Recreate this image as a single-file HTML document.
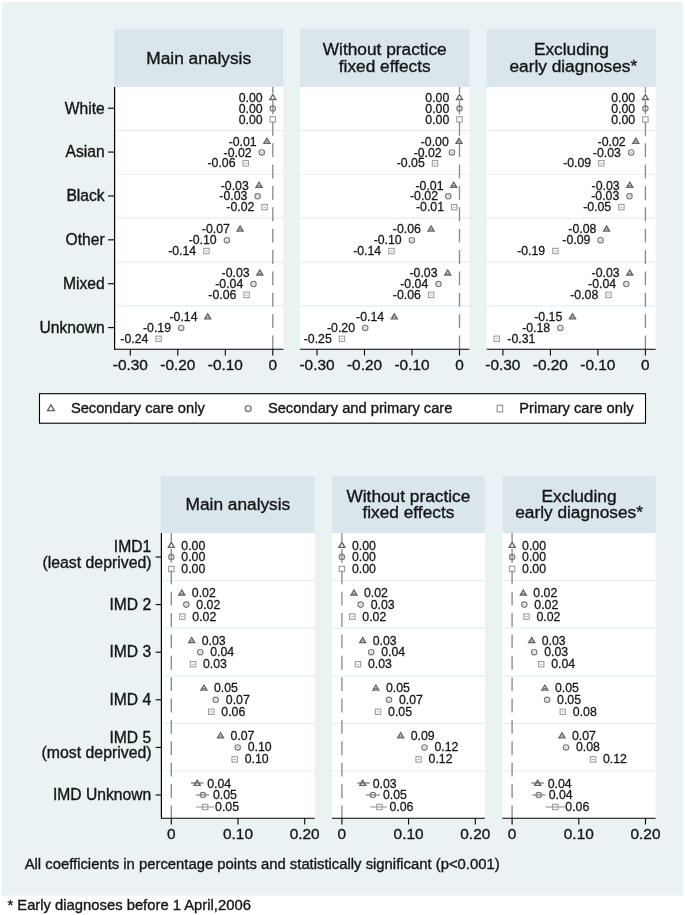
<!DOCTYPE html>
<html><head><meta charset="utf-8"><title>Figure</title>
<style>
html,body{margin:0;padding:0;background:#fff;}
body{width:685px;height:915px;overflow:hidden;font-family:"Liberation Sans",sans-serif;}
svg{display:block;}
svg text{font-family:"Liberation Sans",sans-serif;stroke:#151515;stroke-width:0.35px;}
svg text.dl{stroke-width:0.27px;}
svg{will-change:transform;}
</style></head><body>
<svg width="685" height="915" viewBox="0 0 685 915">
<defs><filter id="gs" filterUnits="userSpaceOnUse" x="0" y="0" width="685" height="915"><feOffset dx="0" dy="0"/></filter></defs>
<g filter="url(#gs)">
<rect x="0" y="0" width="685" height="915" fill="#ffffff"/>
<rect x="2" y="2" width="681" height="893.5" fill="#eaf2f3"/>
<rect x="114" y="29" width="169.40" height="58" fill="#d9e6eb"/>
<rect x="114" y="87" width="169.40" height="262.20" fill="#ffffff"/>
<path d="M116.6 130.30H283.40" stroke="#e6eef2" stroke-width="1.2"/>
<path d="M116.6 174.25H283.40" stroke="#e6eef2" stroke-width="1.2"/>
<path d="M116.6 218.20H283.40" stroke="#e6eef2" stroke-width="1.2"/>
<path d="M116.6 262.15H283.40" stroke="#e6eef2" stroke-width="1.2"/>
<path d="M116.6 306.10H283.40" stroke="#e6eef2" stroke-width="1.2"/>
<text x="198.70" y="63.70" font-size="17.3" text-anchor="middle" fill="#151515" >Main analysis</text>
<path d="M272.80 87.00V92.96M272.80 100.43V114.33M272.80 121.80V135.70M272.80 143.17V157.07M272.80 164.54V178.44M272.80 185.91V199.81M272.80 207.28V221.18M272.80 228.65V242.55M272.80 250.02V263.92M272.80 271.39V285.29M272.80 292.76V306.66M272.80 314.13V328.03M272.80 335.50V349.20" stroke="#8c8c8c" stroke-width="1.35" fill="none"/>
<path d="M114 349.20H283.40" stroke="#000" stroke-width="1.1"/>
<path d="M130.30 349.20V355.50" stroke="#000" stroke-width="1.1"/>
<text x="130.30" y="370.30" font-size="15.4" text-anchor="middle" fill="#151515" >-0.30</text>
<path d="M177.80 349.20V355.50" stroke="#000" stroke-width="1.1"/>
<text x="177.80" y="370.30" font-size="15.4" text-anchor="middle" fill="#151515" >-0.20</text>
<path d="M225.30 349.20V355.50" stroke="#000" stroke-width="1.1"/>
<text x="225.30" y="370.30" font-size="15.4" text-anchor="middle" fill="#151515" >-0.10</text>
<path d="M272.80 349.20V355.50" stroke="#000" stroke-width="1.1"/>
<text x="272.80" y="370.30" font-size="15.4" text-anchor="middle" fill="#151515" >0</text>
<path d="M269.80 99.50L272.80 94.45L275.80 99.50Z" fill="none" stroke="#606060" stroke-width="1.3" stroke-linejoin="miter"/>
<text x="262.60" y="101.85" font-size="12.3" text-anchor="end" fill="#151515"  class="dl">0.00</text>
<circle cx="272.80" cy="108.55" r="2.7" fill="#808080" fill-opacity="0.10" stroke="#7a7a7a" stroke-width="1.15"/>
<text x="262.60" y="112.70" font-size="12.3" text-anchor="end" fill="#151515"  class="dl">0.00</text>
<rect x="270.10" y="116.70" width="5.4" height="5.4" fill="none" stroke="#9a9a9a" stroke-width="1.05"/>
<text x="262.60" y="123.55" font-size="12.3" text-anchor="end" fill="#151515"  class="dl">0.00</text>
<path d="M263.90 143.38L266.90 138.33L269.90 143.38Z" fill="none" stroke="#606060" stroke-width="1.3" stroke-linejoin="miter"/>
<path d="M265.40 141.68H268.40" stroke="#606060" stroke-width="0.9" opacity="1"/>
<text x="256.70" y="145.73" font-size="12.3" text-anchor="end" fill="#151515"  class="dl">-0.01</text>
<circle cx="261.80" cy="152.43" r="2.7" fill="#808080" fill-opacity="0.10" stroke="#7a7a7a" stroke-width="1.15"/>
<path d="M261.00 152.53H262.60" stroke="#7a7a7a" stroke-width="0.9" opacity="0.6"/>
<text x="251.60" y="156.58" font-size="12.3" text-anchor="end" fill="#151515"  class="dl">-0.02</text>
<rect x="243.00" y="160.58" width="5.4" height="5.4" fill="none" stroke="#9a9a9a" stroke-width="1.05"/>
<path d="M244.40 163.38H247.00" stroke="#9a9a9a" stroke-width="0.9" opacity="0.9"/>
<text x="235.50" y="167.43" font-size="12.3" text-anchor="end" fill="#151515"  class="dl">-0.06</text>
<path d="M256.00 187.26L259.00 182.21L262.00 187.26Z" fill="none" stroke="#606060" stroke-width="1.3" stroke-linejoin="miter"/>
<path d="M257.50 185.56H260.50" stroke="#606060" stroke-width="0.9" opacity="1"/>
<text x="248.80" y="189.61" font-size="12.3" text-anchor="end" fill="#151515"  class="dl">-0.03</text>
<circle cx="257.60" cy="196.31" r="2.7" fill="#808080" fill-opacity="0.10" stroke="#7a7a7a" stroke-width="1.15"/>
<path d="M256.80 196.41H258.40" stroke="#7a7a7a" stroke-width="0.9" opacity="0.6"/>
<text x="247.40" y="200.46" font-size="12.3" text-anchor="end" fill="#151515"  class="dl">-0.03</text>
<rect x="261.90" y="204.46" width="5.4" height="5.4" fill="none" stroke="#9a9a9a" stroke-width="1.05"/>
<path d="M263.30 207.26H265.90" stroke="#9a9a9a" stroke-width="0.9" opacity="0.9"/>
<text x="254.40" y="211.31" font-size="12.3" text-anchor="end" fill="#151515"  class="dl">-0.02</text>
<path d="M237.10 231.14L240.10 226.09L243.10 231.14Z" fill="none" stroke="#606060" stroke-width="1.3" stroke-linejoin="miter"/>
<path d="M238.60 229.44H241.60" stroke="#606060" stroke-width="0.9" opacity="1"/>
<text x="229.90" y="233.49" font-size="12.3" text-anchor="end" fill="#151515"  class="dl">-0.07</text>
<circle cx="226.90" cy="240.19" r="2.7" fill="#808080" fill-opacity="0.10" stroke="#7a7a7a" stroke-width="1.15"/>
<path d="M226.10 240.29H227.70" stroke="#7a7a7a" stroke-width="0.9" opacity="0.6"/>
<text x="216.70" y="244.34" font-size="12.3" text-anchor="end" fill="#151515"  class="dl">-0.10</text>
<rect x="203.70" y="248.34" width="5.4" height="5.4" fill="none" stroke="#9a9a9a" stroke-width="1.05"/>
<path d="M205.10 251.14H207.70" stroke="#9a9a9a" stroke-width="0.9" opacity="0.9"/>
<text x="196.20" y="255.19" font-size="12.3" text-anchor="end" fill="#151515"  class="dl">-0.14</text>
<path d="M256.80 275.02L259.80 269.97L262.80 275.02Z" fill="none" stroke="#606060" stroke-width="1.3" stroke-linejoin="miter"/>
<path d="M258.30 273.32H261.30" stroke="#606060" stroke-width="0.9" opacity="1"/>
<text x="249.60" y="277.37" font-size="12.3" text-anchor="end" fill="#151515"  class="dl">-0.03</text>
<circle cx="253.50" cy="284.07" r="2.7" fill="#808080" fill-opacity="0.10" stroke="#7a7a7a" stroke-width="1.15"/>
<path d="M252.70 284.17H254.30" stroke="#7a7a7a" stroke-width="0.9" opacity="0.6"/>
<text x="243.30" y="288.22" font-size="12.3" text-anchor="end" fill="#151515"  class="dl">-0.04</text>
<rect x="243.90" y="292.22" width="5.4" height="5.4" fill="none" stroke="#9a9a9a" stroke-width="1.05"/>
<path d="M245.30 295.02H247.90" stroke="#9a9a9a" stroke-width="0.9" opacity="0.9"/>
<text x="236.40" y="299.07" font-size="12.3" text-anchor="end" fill="#151515"  class="dl">-0.06</text>
<path d="M204.70 318.90L207.70 313.85L210.70 318.90Z" fill="none" stroke="#606060" stroke-width="1.3" stroke-linejoin="miter"/>
<path d="M206.20 317.20H209.20" stroke="#606060" stroke-width="0.9" opacity="1"/>
<text x="197.50" y="321.25" font-size="12.3" text-anchor="end" fill="#151515"  class="dl">-0.14</text>
<circle cx="181.20" cy="327.95" r="2.7" fill="#808080" fill-opacity="0.10" stroke="#7a7a7a" stroke-width="1.15"/>
<path d="M180.40 328.05H182.00" stroke="#7a7a7a" stroke-width="0.9" opacity="0.6"/>
<text x="171.00" y="332.10" font-size="12.3" text-anchor="end" fill="#151515"  class="dl">-0.19</text>
<rect x="155.90" y="336.10" width="5.4" height="5.4" fill="none" stroke="#9a9a9a" stroke-width="1.05"/>
<path d="M157.30 338.90H159.90" stroke="#9a9a9a" stroke-width="0.9" opacity="0.9"/>
<text x="148.40" y="342.95" font-size="12.3" text-anchor="end" fill="#151515"  class="dl">-0.24</text>
<rect x="300" y="29" width="169.50" height="58" fill="#d9e6eb"/>
<rect x="300" y="87" width="169.50" height="262.20" fill="#ffffff"/>
<path d="M300 130.30H469.50" stroke="#e6eef2" stroke-width="1.2"/>
<path d="M300 174.25H469.50" stroke="#e6eef2" stroke-width="1.2"/>
<path d="M300 218.20H469.50" stroke="#e6eef2" stroke-width="1.2"/>
<path d="M300 262.15H469.50" stroke="#e6eef2" stroke-width="1.2"/>
<path d="M300 306.10H469.50" stroke="#e6eef2" stroke-width="1.2"/>
<text x="384.75" y="54.60" font-size="17.3" text-anchor="middle" fill="#151515" >Without practice</text>
<text x="384.75" y="71.80" font-size="17.3" text-anchor="middle" fill="#151515" >fixed effects</text>
<path d="M459.50 87.00V92.96M459.50 100.43V114.33M459.50 121.80V135.70M459.50 143.17V157.07M459.50 164.54V178.44M459.50 185.91V199.81M459.50 207.28V221.18M459.50 228.65V242.55M459.50 250.02V263.92M459.50 271.39V285.29M459.50 292.76V306.66M459.50 314.13V328.03M459.50 335.50V349.20" stroke="#8c8c8c" stroke-width="1.35" fill="none"/>
<path d="M300 349.20H469.50" stroke="#000" stroke-width="1.1"/>
<path d="M317.00 349.20V355.50" stroke="#000" stroke-width="1.1"/>
<text x="317.00" y="370.30" font-size="15.4" text-anchor="middle" fill="#151515" >-0.30</text>
<path d="M364.50 349.20V355.50" stroke="#000" stroke-width="1.1"/>
<text x="364.50" y="370.30" font-size="15.4" text-anchor="middle" fill="#151515" >-0.20</text>
<path d="M412.00 349.20V355.50" stroke="#000" stroke-width="1.1"/>
<text x="412.00" y="370.30" font-size="15.4" text-anchor="middle" fill="#151515" >-0.10</text>
<path d="M459.50 349.20V355.50" stroke="#000" stroke-width="1.1"/>
<text x="459.50" y="370.30" font-size="15.4" text-anchor="middle" fill="#151515" >0</text>
<path d="M456.50 99.50L459.50 94.45L462.50 99.50Z" fill="none" stroke="#606060" stroke-width="1.3" stroke-linejoin="miter"/>
<text x="449.30" y="101.85" font-size="12.3" text-anchor="end" fill="#151515"  class="dl">0.00</text>
<circle cx="459.50" cy="108.55" r="2.7" fill="#808080" fill-opacity="0.10" stroke="#7a7a7a" stroke-width="1.15"/>
<text x="449.30" y="112.70" font-size="12.3" text-anchor="end" fill="#151515"  class="dl">0.00</text>
<rect x="456.80" y="116.70" width="5.4" height="5.4" fill="none" stroke="#9a9a9a" stroke-width="1.05"/>
<text x="449.30" y="123.55" font-size="12.3" text-anchor="end" fill="#151515"  class="dl">0.00</text>
<path d="M456.00 143.38L459.00 138.33L462.00 143.38Z" fill="none" stroke="#606060" stroke-width="1.3" stroke-linejoin="miter"/>
<path d="M457.50 141.68H460.50" stroke="#606060" stroke-width="0.9" opacity="1"/>
<text x="448.80" y="145.73" font-size="12.3" text-anchor="end" fill="#151515"  class="dl">-0.00</text>
<circle cx="451.90" cy="152.43" r="2.7" fill="#808080" fill-opacity="0.10" stroke="#7a7a7a" stroke-width="1.15"/>
<path d="M451.10 152.53H452.70" stroke="#7a7a7a" stroke-width="0.9" opacity="0.6"/>
<text x="441.70" y="156.58" font-size="12.3" text-anchor="end" fill="#151515"  class="dl">-0.02</text>
<rect x="432.30" y="160.58" width="5.4" height="5.4" fill="none" stroke="#9a9a9a" stroke-width="1.05"/>
<path d="M433.70 163.38H436.30" stroke="#9a9a9a" stroke-width="0.9" opacity="0.9"/>
<text x="424.80" y="167.43" font-size="12.3" text-anchor="end" fill="#151515"  class="dl">-0.05</text>
<path d="M450.70 187.26L453.70 182.21L456.70 187.26Z" fill="none" stroke="#606060" stroke-width="1.3" stroke-linejoin="miter"/>
<path d="M452.20 185.56H455.20" stroke="#606060" stroke-width="0.9" opacity="1"/>
<text x="443.50" y="189.61" font-size="12.3" text-anchor="end" fill="#151515"  class="dl">-0.01</text>
<circle cx="448.20" cy="196.31" r="2.7" fill="#808080" fill-opacity="0.10" stroke="#7a7a7a" stroke-width="1.15"/>
<path d="M447.40 196.41H449.00" stroke="#7a7a7a" stroke-width="0.9" opacity="0.6"/>
<text x="438.00" y="200.46" font-size="12.3" text-anchor="end" fill="#151515"  class="dl">-0.02</text>
<rect x="451.50" y="204.46" width="5.4" height="5.4" fill="none" stroke="#9a9a9a" stroke-width="1.05"/>
<path d="M452.90 207.26H455.50" stroke="#9a9a9a" stroke-width="0.9" opacity="0.9"/>
<text x="444.00" y="211.31" font-size="12.3" text-anchor="end" fill="#151515"  class="dl">-0.01</text>
<path d="M428.10 231.14L431.10 226.09L434.10 231.14Z" fill="none" stroke="#606060" stroke-width="1.3" stroke-linejoin="miter"/>
<path d="M429.60 229.44H432.60" stroke="#606060" stroke-width="0.9" opacity="1"/>
<text x="420.90" y="233.49" font-size="12.3" text-anchor="end" fill="#151515"  class="dl">-0.06</text>
<circle cx="411.90" cy="240.19" r="2.7" fill="#808080" fill-opacity="0.10" stroke="#7a7a7a" stroke-width="1.15"/>
<path d="M411.10 240.29H412.70" stroke="#7a7a7a" stroke-width="0.9" opacity="0.6"/>
<text x="401.70" y="244.34" font-size="12.3" text-anchor="end" fill="#151515"  class="dl">-0.10</text>
<rect x="388.70" y="248.34" width="5.4" height="5.4" fill="none" stroke="#9a9a9a" stroke-width="1.05"/>
<path d="M390.10 251.14H392.70" stroke="#9a9a9a" stroke-width="0.9" opacity="0.9"/>
<text x="381.20" y="255.19" font-size="12.3" text-anchor="end" fill="#151515"  class="dl">-0.14</text>
<path d="M444.70 275.02L447.70 269.97L450.70 275.02Z" fill="none" stroke="#606060" stroke-width="1.3" stroke-linejoin="miter"/>
<path d="M446.20 273.32H449.20" stroke="#606060" stroke-width="0.9" opacity="1"/>
<text x="437.50" y="277.37" font-size="12.3" text-anchor="end" fill="#151515"  class="dl">-0.03</text>
<circle cx="438.50" cy="284.07" r="2.7" fill="#808080" fill-opacity="0.10" stroke="#7a7a7a" stroke-width="1.15"/>
<path d="M437.70 284.17H439.30" stroke="#7a7a7a" stroke-width="0.9" opacity="0.6"/>
<text x="428.30" y="288.22" font-size="12.3" text-anchor="end" fill="#151515"  class="dl">-0.04</text>
<rect x="428.40" y="292.22" width="5.4" height="5.4" fill="none" stroke="#9a9a9a" stroke-width="1.05"/>
<path d="M429.80 295.02H432.40" stroke="#9a9a9a" stroke-width="0.9" opacity="0.9"/>
<text x="420.90" y="299.07" font-size="12.3" text-anchor="end" fill="#151515"  class="dl">-0.06</text>
<path d="M391.30 318.90L394.30 313.85L397.30 318.90Z" fill="none" stroke="#606060" stroke-width="1.3" stroke-linejoin="miter"/>
<path d="M392.80 317.20H395.80" stroke="#606060" stroke-width="0.9" opacity="1"/>
<text x="384.10" y="321.25" font-size="12.3" text-anchor="end" fill="#151515"  class="dl">-0.14</text>
<circle cx="365.20" cy="327.95" r="2.7" fill="#808080" fill-opacity="0.10" stroke="#7a7a7a" stroke-width="1.15"/>
<path d="M364.40 328.05H366.00" stroke="#7a7a7a" stroke-width="0.9" opacity="0.6"/>
<text x="355.00" y="332.10" font-size="12.3" text-anchor="end" fill="#151515"  class="dl">-0.20</text>
<rect x="339.30" y="336.10" width="5.4" height="5.4" fill="none" stroke="#9a9a9a" stroke-width="1.05"/>
<path d="M340.70 338.90H343.30" stroke="#9a9a9a" stroke-width="0.9" opacity="0.9"/>
<text x="331.80" y="342.95" font-size="12.3" text-anchor="end" fill="#151515"  class="dl">-0.25</text>
<rect x="486.7" y="29" width="168.90" height="58" fill="#d9e6eb"/>
<rect x="486.7" y="87" width="168.90" height="262.20" fill="#ffffff"/>
<path d="M486.7 130.30H655.60" stroke="#e6eef2" stroke-width="1.2"/>
<path d="M486.7 174.25H655.60" stroke="#e6eef2" stroke-width="1.2"/>
<path d="M486.7 218.20H655.60" stroke="#e6eef2" stroke-width="1.2"/>
<path d="M486.7 262.15H655.60" stroke="#e6eef2" stroke-width="1.2"/>
<path d="M486.7 306.10H655.60" stroke="#e6eef2" stroke-width="1.2"/>
<text x="571.40" y="54.60" font-size="17.3" text-anchor="middle" fill="#151515" >Excluding</text>
<text x="573.30" y="71.80" font-size="17.3" text-anchor="middle" fill="#151515" >early diagnoses*</text>
<path d="M645.40 87.00V92.96M645.40 100.43V114.33M645.40 121.80V135.70M645.40 143.17V157.07M645.40 164.54V178.44M645.40 185.91V199.81M645.40 207.28V221.18M645.40 228.65V242.55M645.40 250.02V263.92M645.40 271.39V285.29M645.40 292.76V306.66M645.40 314.13V328.03M645.40 335.50V349.20" stroke="#8c8c8c" stroke-width="1.35" fill="none"/>
<path d="M486.7 349.20H655.60" stroke="#000" stroke-width="1.1"/>
<path d="M502.90 349.20V355.50" stroke="#000" stroke-width="1.1"/>
<text x="502.90" y="370.30" font-size="15.4" text-anchor="middle" fill="#151515" >-0.30</text>
<path d="M550.40 349.20V355.50" stroke="#000" stroke-width="1.1"/>
<text x="550.40" y="370.30" font-size="15.4" text-anchor="middle" fill="#151515" >-0.20</text>
<path d="M597.90 349.20V355.50" stroke="#000" stroke-width="1.1"/>
<text x="597.90" y="370.30" font-size="15.4" text-anchor="middle" fill="#151515" >-0.10</text>
<path d="M645.40 349.20V355.50" stroke="#000" stroke-width="1.1"/>
<text x="645.40" y="370.30" font-size="15.4" text-anchor="middle" fill="#151515" >0</text>
<path d="M642.40 99.50L645.40 94.45L648.40 99.50Z" fill="none" stroke="#606060" stroke-width="1.3" stroke-linejoin="miter"/>
<text x="635.20" y="101.85" font-size="12.3" text-anchor="end" fill="#151515"  class="dl">0.00</text>
<circle cx="645.40" cy="108.55" r="2.7" fill="#808080" fill-opacity="0.10" stroke="#7a7a7a" stroke-width="1.15"/>
<text x="635.20" y="112.70" font-size="12.3" text-anchor="end" fill="#151515"  class="dl">0.00</text>
<rect x="642.70" y="116.70" width="5.4" height="5.4" fill="none" stroke="#9a9a9a" stroke-width="1.05"/>
<text x="635.20" y="123.55" font-size="12.3" text-anchor="end" fill="#151515"  class="dl">0.00</text>
<path d="M632.80 143.38L635.80 138.33L638.80 143.38Z" fill="none" stroke="#606060" stroke-width="1.3" stroke-linejoin="miter"/>
<path d="M634.30 141.68H637.30" stroke="#606060" stroke-width="0.9" opacity="1"/>
<text x="625.60" y="145.73" font-size="12.3" text-anchor="end" fill="#151515"  class="dl">-0.02</text>
<circle cx="631.10" cy="152.43" r="2.7" fill="#808080" fill-opacity="0.10" stroke="#7a7a7a" stroke-width="1.15"/>
<path d="M630.30 152.53H631.90" stroke="#7a7a7a" stroke-width="0.9" opacity="0.6"/>
<text x="620.90" y="156.58" font-size="12.3" text-anchor="end" fill="#151515"  class="dl">-0.03</text>
<rect x="598.70" y="160.58" width="5.4" height="5.4" fill="none" stroke="#9a9a9a" stroke-width="1.05"/>
<path d="M600.10 163.38H602.70" stroke="#9a9a9a" stroke-width="0.9" opacity="0.9"/>
<text x="591.20" y="167.43" font-size="12.3" text-anchor="end" fill="#151515"  class="dl">-0.09</text>
<path d="M626.80 187.26L629.80 182.21L632.80 187.26Z" fill="none" stroke="#606060" stroke-width="1.3" stroke-linejoin="miter"/>
<path d="M628.30 185.56H631.30" stroke="#606060" stroke-width="0.9" opacity="1"/>
<text x="619.60" y="189.61" font-size="12.3" text-anchor="end" fill="#151515"  class="dl">-0.03</text>
<circle cx="629.50" cy="196.31" r="2.7" fill="#808080" fill-opacity="0.10" stroke="#7a7a7a" stroke-width="1.15"/>
<path d="M628.70 196.41H630.30" stroke="#7a7a7a" stroke-width="0.9" opacity="0.6"/>
<text x="619.30" y="200.46" font-size="12.3" text-anchor="end" fill="#151515"  class="dl">-0.03</text>
<rect x="618.70" y="204.46" width="5.4" height="5.4" fill="none" stroke="#9a9a9a" stroke-width="1.05"/>
<path d="M620.10 207.26H622.70" stroke="#9a9a9a" stroke-width="0.9" opacity="0.9"/>
<text x="611.20" y="211.31" font-size="12.3" text-anchor="end" fill="#151515"  class="dl">-0.05</text>
<path d="M603.60 231.14L606.60 226.09L609.60 231.14Z" fill="none" stroke="#606060" stroke-width="1.3" stroke-linejoin="miter"/>
<path d="M605.10 229.44H608.10" stroke="#606060" stroke-width="0.9" opacity="1"/>
<text x="596.40" y="233.49" font-size="12.3" text-anchor="end" fill="#151515"  class="dl">-0.08</text>
<circle cx="600.60" cy="240.19" r="2.7" fill="#808080" fill-opacity="0.10" stroke="#7a7a7a" stroke-width="1.15"/>
<path d="M599.80 240.29H601.40" stroke="#7a7a7a" stroke-width="0.9" opacity="0.6"/>
<text x="590.40" y="244.34" font-size="12.3" text-anchor="end" fill="#151515"  class="dl">-0.09</text>
<rect x="552.70" y="248.34" width="5.4" height="5.4" fill="none" stroke="#9a9a9a" stroke-width="1.05"/>
<path d="M554.10 251.14H556.70" stroke="#9a9a9a" stroke-width="0.9" opacity="0.9"/>
<text x="545.20" y="255.19" font-size="12.3" text-anchor="end" fill="#151515"  class="dl">-0.19</text>
<path d="M626.80 275.02L629.80 269.97L632.80 275.02Z" fill="none" stroke="#606060" stroke-width="1.3" stroke-linejoin="miter"/>
<path d="M628.30 273.32H631.30" stroke="#606060" stroke-width="0.9" opacity="1"/>
<text x="619.60" y="277.37" font-size="12.3" text-anchor="end" fill="#151515"  class="dl">-0.03</text>
<circle cx="626.30" cy="284.07" r="2.7" fill="#808080" fill-opacity="0.10" stroke="#7a7a7a" stroke-width="1.15"/>
<path d="M625.50 284.17H627.10" stroke="#7a7a7a" stroke-width="0.9" opacity="0.6"/>
<text x="616.10" y="288.22" font-size="12.3" text-anchor="end" fill="#151515"  class="dl">-0.04</text>
<rect x="605.80" y="292.22" width="5.4" height="5.4" fill="none" stroke="#9a9a9a" stroke-width="1.05"/>
<path d="M607.20 295.02H609.80" stroke="#9a9a9a" stroke-width="0.9" opacity="0.9"/>
<text x="598.30" y="299.07" font-size="12.3" text-anchor="end" fill="#151515"  class="dl">-0.08</text>
<path d="M569.50 318.90L572.50 313.85L575.50 318.90Z" fill="none" stroke="#606060" stroke-width="1.3" stroke-linejoin="miter"/>
<path d="M571.00 317.20H574.00" stroke="#606060" stroke-width="0.9" opacity="1"/>
<text x="562.30" y="321.25" font-size="12.3" text-anchor="end" fill="#151515"  class="dl">-0.15</text>
<circle cx="560.40" cy="327.95" r="2.7" fill="#808080" fill-opacity="0.10" stroke="#7a7a7a" stroke-width="1.15"/>
<path d="M559.60 328.05H561.20" stroke="#7a7a7a" stroke-width="0.9" opacity="0.6"/>
<text x="550.20" y="332.10" font-size="12.3" text-anchor="end" fill="#151515"  class="dl">-0.18</text>
<rect x="494.10" y="336.10" width="5.4" height="5.4" fill="none" stroke="#9a9a9a" stroke-width="1.05"/>
<path d="M495.50 338.90H498.10" stroke="#9a9a9a" stroke-width="0.9" opacity="0.9"/>
<text x="507.30" y="342.95" font-size="12.3" text-anchor="start" fill="#151515"  class="dl">-0.31</text>
<path d="M114.6 87V349.20" stroke="#000" stroke-width="1.2"/>
<path d="M108 108.20H114.6" stroke="#000" stroke-width="1.1"/>
<text x="104.70" y="113.50" font-size="15.65" text-anchor="end" fill="#151515" >White</text>
<path d="M108 152.08H114.6" stroke="#000" stroke-width="1.1"/>
<text x="104.70" y="157.38" font-size="15.65" text-anchor="end" fill="#151515" >Asian</text>
<path d="M108 195.96H114.6" stroke="#000" stroke-width="1.1"/>
<text x="104.70" y="201.26" font-size="15.65" text-anchor="end" fill="#151515" >Black</text>
<path d="M108 239.84H114.6" stroke="#000" stroke-width="1.1"/>
<text x="104.70" y="245.14" font-size="15.65" text-anchor="end" fill="#151515" >Other</text>
<path d="M108 283.72H114.6" stroke="#000" stroke-width="1.1"/>
<text x="104.70" y="289.02" font-size="15.65" text-anchor="end" fill="#151515" >Mixed</text>
<path d="M108 327.60H114.6" stroke="#000" stroke-width="1.1"/>
<text x="104.70" y="332.90" font-size="15.65" text-anchor="end" fill="#151515" >Unknown</text>
<rect x="39.5" y="393.7" width="606" height="29.5" fill="#ffffff" stroke="#000" stroke-width="1.1"/>
<path d="M47.39 410.71L50.90 404.80L54.41 410.71Z" fill="none" stroke="#606060" stroke-width="1.3" stroke-linejoin="miter"/>
<text x="70.90" y="412.80" font-size="14.7" text-anchor="start" fill="#151515" >Secondary care only</text>
<circle cx="248.15" cy="408.55" r="2.95" fill="none" stroke="#7a7a7a" stroke-width="1.4"/>
<text x="267.90" y="412.80" font-size="14.7" text-anchor="start" fill="#151515" >Secondary and primary care</text>
<rect x="497.1" y="405.3" width="5.5" height="6.6" fill="none" stroke="#9a9a9a" stroke-width="1.2"/>
<text x="519.30" y="412.80" font-size="14.7" text-anchor="start" fill="#151515" >Primary care only</text>
<rect x="161" y="476.4" width="153.80" height="56.60" fill="#d9e6eb"/>
<rect x="161" y="533" width="153.80" height="285.20" fill="#ffffff"/>
<path d="M163.6 580.60H314.80" stroke="#e6eef2" stroke-width="1.2"/>
<path d="M163.6 628.20H314.80" stroke="#e6eef2" stroke-width="1.2"/>
<path d="M163.6 675.80H314.80" stroke="#e6eef2" stroke-width="1.2"/>
<path d="M163.6 723.40H314.80" stroke="#e6eef2" stroke-width="1.2"/>
<path d="M163.6 771.00H314.80" stroke="#e6eef2" stroke-width="1.2"/>
<text x="237.90" y="510.10" font-size="17.3" text-anchor="middle" fill="#151515" >Main analysis</text>
<path d="M171.30 533.00V541.49M171.30 548.96V562.86M171.30 570.33V584.23M171.30 591.70V605.60M171.30 613.07V626.97M171.30 634.44V648.34M171.30 655.81V669.71M171.30 677.18V691.08M171.30 698.55V712.45M171.30 719.92V733.82M171.30 741.29V755.19M171.30 762.66V776.56M171.30 784.03V797.93M171.30 805.40V818.20" stroke="#8c8c8c" stroke-width="1.35" fill="none"/>
<path d="M161 818.20H314.80" stroke="#000" stroke-width="1.1"/>
<path d="M171.30 818.20V824.50" stroke="#000" stroke-width="1.1"/>
<text x="171.30" y="839.40" font-size="15.4" text-anchor="middle" fill="#151515" >0</text>
<path d="M238.00 818.20V824.50" stroke="#000" stroke-width="1.1"/>
<text x="238.00" y="839.40" font-size="15.4" text-anchor="middle" fill="#151515" >0.10</text>
<path d="M304.70 818.20V824.50" stroke="#000" stroke-width="1.1"/>
<text x="304.70" y="839.40" font-size="15.4" text-anchor="middle" fill="#151515" >0.20</text>
<path d="M168.30 547.40L171.30 542.35L174.30 547.40Z" fill="none" stroke="#606060" stroke-width="1.3" stroke-linejoin="miter"/>
<text x="181.30" y="549.60" font-size="12.3" text-anchor="start" fill="#151515"  class="dl">0.00</text>
<circle cx="171.30" cy="557.00" r="2.7" fill="#808080" fill-opacity="0.10" stroke="#7a7a7a" stroke-width="1.15"/>
<text x="181.30" y="561.00" font-size="12.3" text-anchor="start" fill="#151515"  class="dl">0.00</text>
<rect x="168.60" y="566.30" width="5.4" height="5.4" fill="none" stroke="#9a9a9a" stroke-width="1.05"/>
<text x="181.30" y="573.00" font-size="12.3" text-anchor="start" fill="#151515"  class="dl">0.00</text>
<path d="M180.30 593.30H183.30" stroke="#606060" stroke-width="0.9" opacity="1"/>
<path d="M178.80 595.00L181.80 589.95L184.80 595.00Z" fill="none" stroke="#606060" stroke-width="1.3" stroke-linejoin="miter"/>
<text x="191.80" y="597.20" font-size="12.3" text-anchor="start" fill="#151515"  class="dl">0.02</text>
<path d="M185.50 604.70H187.10" stroke="#7a7a7a" stroke-width="0.9" opacity="0.6"/>
<circle cx="186.30" cy="604.60" r="2.7" fill="#808080" fill-opacity="0.10" stroke="#7a7a7a" stroke-width="1.15"/>
<text x="196.30" y="608.60" font-size="12.3" text-anchor="start" fill="#151515"  class="dl">0.02</text>
<path d="M181.00 616.70H183.60" stroke="#9a9a9a" stroke-width="0.9" opacity="0.9"/>
<rect x="179.60" y="613.90" width="5.4" height="5.4" fill="none" stroke="#9a9a9a" stroke-width="1.05"/>
<text x="192.30" y="620.60" font-size="12.3" text-anchor="start" fill="#151515"  class="dl">0.02</text>
<path d="M190.20 640.90H193.20" stroke="#606060" stroke-width="0.9" opacity="1"/>
<path d="M188.70 642.60L191.70 637.55L194.70 642.60Z" fill="none" stroke="#606060" stroke-width="1.3" stroke-linejoin="miter"/>
<text x="201.70" y="644.80" font-size="12.3" text-anchor="start" fill="#151515"  class="dl">0.03</text>
<path d="M199.40 652.30H201.00" stroke="#7a7a7a" stroke-width="0.9" opacity="0.6"/>
<circle cx="200.20" cy="652.20" r="2.7" fill="#808080" fill-opacity="0.10" stroke="#7a7a7a" stroke-width="1.15"/>
<text x="210.20" y="656.20" font-size="12.3" text-anchor="start" fill="#151515"  class="dl">0.04</text>
<path d="M191.70 664.30H194.30" stroke="#9a9a9a" stroke-width="0.9" opacity="0.9"/>
<rect x="190.30" y="661.50" width="5.4" height="5.4" fill="none" stroke="#9a9a9a" stroke-width="1.05"/>
<text x="203.00" y="668.20" font-size="12.3" text-anchor="start" fill="#151515"  class="dl">0.03</text>
<path d="M202.40 688.50H205.40" stroke="#606060" stroke-width="0.9" opacity="1"/>
<path d="M200.90 690.20L203.90 685.15L206.90 690.20Z" fill="none" stroke="#606060" stroke-width="1.3" stroke-linejoin="miter"/>
<text x="213.90" y="692.40" font-size="12.3" text-anchor="start" fill="#151515"  class="dl">0.05</text>
<path d="M215.00 699.90H216.60" stroke="#7a7a7a" stroke-width="0.9" opacity="0.6"/>
<circle cx="215.80" cy="699.80" r="2.7" fill="#808080" fill-opacity="0.10" stroke="#7a7a7a" stroke-width="1.15"/>
<text x="225.80" y="703.80" font-size="12.3" text-anchor="start" fill="#151515"  class="dl">0.07</text>
<path d="M210.00 711.90H212.60" stroke="#9a9a9a" stroke-width="0.9" opacity="0.9"/>
<rect x="208.60" y="709.10" width="5.4" height="5.4" fill="none" stroke="#9a9a9a" stroke-width="1.05"/>
<text x="221.30" y="715.80" font-size="12.3" text-anchor="start" fill="#151515"  class="dl">0.06</text>
<path d="M219.00 736.10H222.00" stroke="#606060" stroke-width="0.9" opacity="1"/>
<path d="M217.50 737.80L220.50 732.75L223.50 737.80Z" fill="none" stroke="#606060" stroke-width="1.3" stroke-linejoin="miter"/>
<text x="230.50" y="740.00" font-size="12.3" text-anchor="start" fill="#151515"  class="dl">0.07</text>
<path d="M236.90 747.50H238.50" stroke="#7a7a7a" stroke-width="0.9" opacity="0.6"/>
<circle cx="237.70" cy="747.40" r="2.7" fill="#808080" fill-opacity="0.10" stroke="#7a7a7a" stroke-width="1.15"/>
<text x="247.70" y="751.40" font-size="12.3" text-anchor="start" fill="#151515"  class="dl">0.10</text>
<path d="M233.40 759.50H236.00" stroke="#9a9a9a" stroke-width="0.9" opacity="0.9"/>
<rect x="232.00" y="756.70" width="5.4" height="5.4" fill="none" stroke="#9a9a9a" stroke-width="1.05"/>
<text x="244.70" y="763.40" font-size="12.3" text-anchor="start" fill="#151515"  class="dl">0.10</text>
<path d="M191.00 783.00H203.40" stroke="#606060" stroke-width="1.1"/>
<path d="M194.20 785.40L197.20 780.35L200.20 785.40Z" fill="none" stroke="#606060" stroke-width="1.3" stroke-linejoin="miter"/>
<text x="207.20" y="787.60" font-size="12.3" text-anchor="start" fill="#151515"  class="dl">0.04</text>
<path d="M196.00 795.00H209.10" stroke="#7a7a7a" stroke-width="1.1"/>
<circle cx="202.90" cy="795.00" r="2.7" fill="#808080" fill-opacity="0.10" stroke="#7a7a7a" stroke-width="1.15"/>
<text x="212.90" y="799.00" font-size="12.3" text-anchor="start" fill="#151515"  class="dl">0.05</text>
<path d="M196.00 807.00H214.10" stroke="#9a9a9a" stroke-width="1.1"/>
<rect x="202.40" y="804.30" width="5.4" height="5.4" fill="none" stroke="#9a9a9a" stroke-width="1.05"/>
<text x="215.10" y="811.00" font-size="12.3" text-anchor="start" fill="#151515"  class="dl">0.05</text>
<rect x="332" y="476.4" width="152.80" height="56.60" fill="#d9e6eb"/>
<rect x="332" y="533" width="152.80" height="285.20" fill="#ffffff"/>
<path d="M332 580.60H484.80" stroke="#e6eef2" stroke-width="1.2"/>
<path d="M332 628.20H484.80" stroke="#e6eef2" stroke-width="1.2"/>
<path d="M332 675.80H484.80" stroke="#e6eef2" stroke-width="1.2"/>
<path d="M332 723.40H484.80" stroke="#e6eef2" stroke-width="1.2"/>
<path d="M332 771.00H484.80" stroke="#e6eef2" stroke-width="1.2"/>
<text x="408.40" y="501.60" font-size="17.3" text-anchor="middle" fill="#151515" >Without practice</text>
<text x="408.40" y="518.40" font-size="17.3" text-anchor="middle" fill="#151515" >fixed effects</text>
<path d="M341.90 533.00V541.49M341.90 548.96V562.86M341.90 570.33V584.23M341.90 591.70V605.60M341.90 613.07V626.97M341.90 634.44V648.34M341.90 655.81V669.71M341.90 677.18V691.08M341.90 698.55V712.45M341.90 719.92V733.82M341.90 741.29V755.19M341.90 762.66V776.56M341.90 784.03V797.93M341.90 805.40V818.20" stroke="#8c8c8c" stroke-width="1.35" fill="none"/>
<path d="M332 818.20H484.80" stroke="#000" stroke-width="1.1"/>
<path d="M341.90 818.20V824.50" stroke="#000" stroke-width="1.1"/>
<text x="341.90" y="839.40" font-size="15.4" text-anchor="middle" fill="#151515" >0</text>
<path d="M408.60 818.20V824.50" stroke="#000" stroke-width="1.1"/>
<text x="408.60" y="839.40" font-size="15.4" text-anchor="middle" fill="#151515" >0.10</text>
<path d="M475.30 818.20V824.50" stroke="#000" stroke-width="1.1"/>
<text x="475.30" y="839.40" font-size="15.4" text-anchor="middle" fill="#151515" >0.20</text>
<path d="M338.90 547.40L341.90 542.35L344.90 547.40Z" fill="none" stroke="#606060" stroke-width="1.3" stroke-linejoin="miter"/>
<text x="351.90" y="549.60" font-size="12.3" text-anchor="start" fill="#151515"  class="dl">0.00</text>
<circle cx="341.90" cy="557.00" r="2.7" fill="#808080" fill-opacity="0.10" stroke="#7a7a7a" stroke-width="1.15"/>
<text x="351.90" y="561.00" font-size="12.3" text-anchor="start" fill="#151515"  class="dl">0.00</text>
<rect x="339.20" y="566.30" width="5.4" height="5.4" fill="none" stroke="#9a9a9a" stroke-width="1.05"/>
<text x="351.90" y="573.00" font-size="12.3" text-anchor="start" fill="#151515"  class="dl">0.00</text>
<path d="M352.50 593.30H355.50" stroke="#606060" stroke-width="0.9" opacity="1"/>
<path d="M351.00 595.00L354.00 589.95L357.00 595.00Z" fill="none" stroke="#606060" stroke-width="1.3" stroke-linejoin="miter"/>
<text x="364.00" y="597.20" font-size="12.3" text-anchor="start" fill="#151515"  class="dl">0.02</text>
<path d="M359.90 604.70H361.50" stroke="#7a7a7a" stroke-width="0.9" opacity="0.6"/>
<circle cx="360.70" cy="604.60" r="2.7" fill="#808080" fill-opacity="0.10" stroke="#7a7a7a" stroke-width="1.15"/>
<text x="370.70" y="608.60" font-size="12.3" text-anchor="start" fill="#151515"  class="dl">0.03</text>
<path d="M351.00 616.70H353.60" stroke="#9a9a9a" stroke-width="0.9" opacity="0.9"/>
<rect x="349.60" y="613.90" width="5.4" height="5.4" fill="none" stroke="#9a9a9a" stroke-width="1.05"/>
<text x="362.30" y="620.60" font-size="12.3" text-anchor="start" fill="#151515"  class="dl">0.02</text>
<path d="M361.20 640.90H364.20" stroke="#606060" stroke-width="0.9" opacity="1"/>
<path d="M359.70 642.60L362.70 637.55L365.70 642.60Z" fill="none" stroke="#606060" stroke-width="1.3" stroke-linejoin="miter"/>
<text x="372.70" y="644.80" font-size="12.3" text-anchor="start" fill="#151515"  class="dl">0.03</text>
<path d="M370.40 652.30H372.00" stroke="#7a7a7a" stroke-width="0.9" opacity="0.6"/>
<circle cx="371.20" cy="652.20" r="2.7" fill="#808080" fill-opacity="0.10" stroke="#7a7a7a" stroke-width="1.15"/>
<text x="381.20" y="656.20" font-size="12.3" text-anchor="start" fill="#151515"  class="dl">0.04</text>
<path d="M356.70 664.30H359.30" stroke="#9a9a9a" stroke-width="0.9" opacity="0.9"/>
<rect x="355.30" y="661.50" width="5.4" height="5.4" fill="none" stroke="#9a9a9a" stroke-width="1.05"/>
<text x="368.00" y="668.20" font-size="12.3" text-anchor="start" fill="#151515"  class="dl">0.03</text>
<path d="M374.40 688.50H377.40" stroke="#606060" stroke-width="0.9" opacity="1"/>
<path d="M372.90 690.20L375.90 685.15L378.90 690.20Z" fill="none" stroke="#606060" stroke-width="1.3" stroke-linejoin="miter"/>
<text x="385.90" y="692.40" font-size="12.3" text-anchor="start" fill="#151515"  class="dl">0.05</text>
<path d="M388.20 699.90H389.80" stroke="#7a7a7a" stroke-width="0.9" opacity="0.6"/>
<circle cx="389.00" cy="699.80" r="2.7" fill="#808080" fill-opacity="0.10" stroke="#7a7a7a" stroke-width="1.15"/>
<text x="399.00" y="703.80" font-size="12.3" text-anchor="start" fill="#151515"  class="dl">0.07</text>
<path d="M376.80 711.90H379.40" stroke="#9a9a9a" stroke-width="0.9" opacity="0.9"/>
<rect x="375.40" y="709.10" width="5.4" height="5.4" fill="none" stroke="#9a9a9a" stroke-width="1.05"/>
<text x="388.10" y="715.80" font-size="12.3" text-anchor="start" fill="#151515"  class="dl">0.05</text>
<path d="M399.20 736.10H402.20" stroke="#606060" stroke-width="0.9" opacity="1"/>
<path d="M397.70 737.80L400.70 732.75L403.70 737.80Z" fill="none" stroke="#606060" stroke-width="1.3" stroke-linejoin="miter"/>
<text x="410.70" y="740.00" font-size="12.3" text-anchor="start" fill="#151515"  class="dl">0.09</text>
<path d="M423.70 747.50H425.30" stroke="#7a7a7a" stroke-width="0.9" opacity="0.6"/>
<circle cx="424.50" cy="747.40" r="2.7" fill="#808080" fill-opacity="0.10" stroke="#7a7a7a" stroke-width="1.15"/>
<text x="434.50" y="751.40" font-size="12.3" text-anchor="start" fill="#151515"  class="dl">0.12</text>
<path d="M417.30 759.50H419.90" stroke="#9a9a9a" stroke-width="0.9" opacity="0.9"/>
<rect x="415.90" y="756.70" width="5.4" height="5.4" fill="none" stroke="#9a9a9a" stroke-width="1.05"/>
<text x="428.60" y="763.40" font-size="12.3" text-anchor="start" fill="#151515"  class="dl">0.12</text>
<path d="M357.30 783.00H369.70" stroke="#606060" stroke-width="1.1"/>
<path d="M359.70 785.40L362.70 780.35L365.70 785.40Z" fill="none" stroke="#606060" stroke-width="1.3" stroke-linejoin="miter"/>
<text x="372.70" y="787.60" font-size="12.3" text-anchor="start" fill="#151515"  class="dl">0.03</text>
<path d="M366.00 795.00H380.10" stroke="#7a7a7a" stroke-width="1.1"/>
<circle cx="372.90" cy="795.00" r="2.7" fill="#808080" fill-opacity="0.10" stroke="#7a7a7a" stroke-width="1.15"/>
<text x="382.90" y="799.00" font-size="12.3" text-anchor="start" fill="#151515"  class="dl">0.05</text>
<path d="M370.20 807.00H387.00" stroke="#9a9a9a" stroke-width="1.1"/>
<rect x="376.70" y="804.30" width="5.4" height="5.4" fill="none" stroke="#9a9a9a" stroke-width="1.05"/>
<text x="389.40" y="811.00" font-size="12.3" text-anchor="start" fill="#151515"  class="dl">0.06</text>
<rect x="502.5" y="476.4" width="153.10" height="56.60" fill="#d9e6eb"/>
<rect x="502.5" y="533" width="153.10" height="285.20" fill="#ffffff"/>
<path d="M502.5 580.60H655.60" stroke="#e6eef2" stroke-width="1.2"/>
<path d="M502.5 628.20H655.60" stroke="#e6eef2" stroke-width="1.2"/>
<path d="M502.5 675.80H655.60" stroke="#e6eef2" stroke-width="1.2"/>
<path d="M502.5 723.40H655.60" stroke="#e6eef2" stroke-width="1.2"/>
<path d="M502.5 771.00H655.60" stroke="#e6eef2" stroke-width="1.2"/>
<text x="579.05" y="501.60" font-size="17.3" text-anchor="middle" fill="#151515" >Excluding</text>
<text x="579.05" y="518.40" font-size="17.3" text-anchor="middle" fill="#151515" >early diagnoses*</text>
<path d="M512.10 533.00V541.49M512.10 548.96V562.86M512.10 570.33V584.23M512.10 591.70V605.60M512.10 613.07V626.97M512.10 634.44V648.34M512.10 655.81V669.71M512.10 677.18V691.08M512.10 698.55V712.45M512.10 719.92V733.82M512.10 741.29V755.19M512.10 762.66V776.56M512.10 784.03V797.93M512.10 805.40V818.20" stroke="#8c8c8c" stroke-width="1.35" fill="none"/>
<path d="M502.5 818.20H655.60" stroke="#000" stroke-width="1.1"/>
<path d="M512.10 818.20V824.50" stroke="#000" stroke-width="1.1"/>
<text x="512.10" y="839.40" font-size="15.4" text-anchor="middle" fill="#151515" >0</text>
<path d="M578.80 818.20V824.50" stroke="#000" stroke-width="1.1"/>
<text x="578.80" y="839.40" font-size="15.4" text-anchor="middle" fill="#151515" >0.10</text>
<path d="M645.50 818.20V824.50" stroke="#000" stroke-width="1.1"/>
<text x="645.50" y="839.40" font-size="15.4" text-anchor="middle" fill="#151515" >0.20</text>
<path d="M509.10 547.40L512.10 542.35L515.10 547.40Z" fill="none" stroke="#606060" stroke-width="1.3" stroke-linejoin="miter"/>
<text x="522.10" y="549.60" font-size="12.3" text-anchor="start" fill="#151515"  class="dl">0.00</text>
<circle cx="512.10" cy="557.00" r="2.7" fill="#808080" fill-opacity="0.10" stroke="#7a7a7a" stroke-width="1.15"/>
<text x="522.10" y="561.00" font-size="12.3" text-anchor="start" fill="#151515"  class="dl">0.00</text>
<rect x="509.40" y="566.30" width="5.4" height="5.4" fill="none" stroke="#9a9a9a" stroke-width="1.05"/>
<text x="522.10" y="573.00" font-size="12.3" text-anchor="start" fill="#151515"  class="dl">0.00</text>
<path d="M521.80 593.30H524.80" stroke="#606060" stroke-width="0.9" opacity="1"/>
<path d="M520.30 595.00L523.30 589.95L526.30 595.00Z" fill="none" stroke="#606060" stroke-width="1.3" stroke-linejoin="miter"/>
<text x="533.30" y="597.20" font-size="12.3" text-anchor="start" fill="#151515"  class="dl">0.02</text>
<path d="M523.50 604.70H525.10" stroke="#7a7a7a" stroke-width="0.9" opacity="0.6"/>
<circle cx="524.30" cy="604.60" r="2.7" fill="#808080" fill-opacity="0.10" stroke="#7a7a7a" stroke-width="1.15"/>
<text x="534.30" y="608.60" font-size="12.3" text-anchor="start" fill="#151515"  class="dl">0.02</text>
<path d="M525.20 616.70H527.80" stroke="#9a9a9a" stroke-width="0.9" opacity="0.9"/>
<rect x="523.80" y="613.90" width="5.4" height="5.4" fill="none" stroke="#9a9a9a" stroke-width="1.05"/>
<text x="536.50" y="620.60" font-size="12.3" text-anchor="start" fill="#151515"  class="dl">0.02</text>
<path d="M530.20 640.90H533.20" stroke="#606060" stroke-width="0.9" opacity="1"/>
<path d="M528.70 642.60L531.70 637.55L534.70 642.60Z" fill="none" stroke="#606060" stroke-width="1.3" stroke-linejoin="miter"/>
<text x="541.70" y="644.80" font-size="12.3" text-anchor="start" fill="#151515"  class="dl">0.03</text>
<path d="M533.40 652.30H535.00" stroke="#7a7a7a" stroke-width="0.9" opacity="0.6"/>
<circle cx="534.20" cy="652.20" r="2.7" fill="#808080" fill-opacity="0.10" stroke="#7a7a7a" stroke-width="1.15"/>
<text x="544.20" y="656.20" font-size="12.3" text-anchor="start" fill="#151515"  class="dl">0.03</text>
<path d="M539.90 664.30H542.50" stroke="#9a9a9a" stroke-width="0.9" opacity="0.9"/>
<rect x="538.50" y="661.50" width="5.4" height="5.4" fill="none" stroke="#9a9a9a" stroke-width="1.05"/>
<text x="551.20" y="668.20" font-size="12.3" text-anchor="start" fill="#151515"  class="dl">0.04</text>
<path d="M543.40 688.50H546.40" stroke="#606060" stroke-width="0.9" opacity="1"/>
<path d="M541.90 690.20L544.90 685.15L547.90 690.20Z" fill="none" stroke="#606060" stroke-width="1.3" stroke-linejoin="miter"/>
<text x="554.90" y="692.40" font-size="12.3" text-anchor="start" fill="#151515"  class="dl">0.05</text>
<path d="M546.30 699.90H547.90" stroke="#7a7a7a" stroke-width="0.9" opacity="0.6"/>
<circle cx="547.10" cy="699.80" r="2.7" fill="#808080" fill-opacity="0.10" stroke="#7a7a7a" stroke-width="1.15"/>
<text x="557.10" y="703.80" font-size="12.3" text-anchor="start" fill="#151515"  class="dl">0.05</text>
<path d="M561.50 711.90H564.10" stroke="#9a9a9a" stroke-width="0.9" opacity="0.9"/>
<rect x="560.10" y="709.10" width="5.4" height="5.4" fill="none" stroke="#9a9a9a" stroke-width="1.05"/>
<text x="572.80" y="715.80" font-size="12.3" text-anchor="start" fill="#151515"  class="dl">0.08</text>
<path d="M560.50 736.10H563.50" stroke="#606060" stroke-width="0.9" opacity="1"/>
<path d="M559.00 737.80L562.00 732.75L565.00 737.80Z" fill="none" stroke="#606060" stroke-width="1.3" stroke-linejoin="miter"/>
<text x="572.00" y="740.00" font-size="12.3" text-anchor="start" fill="#151515"  class="dl">0.07</text>
<path d="M565.20 747.50H566.80" stroke="#7a7a7a" stroke-width="0.9" opacity="0.6"/>
<circle cx="566.00" cy="747.40" r="2.7" fill="#808080" fill-opacity="0.10" stroke="#7a7a7a" stroke-width="1.15"/>
<text x="576.00" y="751.40" font-size="12.3" text-anchor="start" fill="#151515"  class="dl">0.08</text>
<path d="M591.70 759.50H594.30" stroke="#9a9a9a" stroke-width="0.9" opacity="0.9"/>
<rect x="590.30" y="756.70" width="5.4" height="5.4" fill="none" stroke="#9a9a9a" stroke-width="1.05"/>
<text x="603.00" y="763.40" font-size="12.3" text-anchor="start" fill="#151515"  class="dl">0.12</text>
<path d="M531.50 783.00H543.90" stroke="#606060" stroke-width="1.1"/>
<path d="M534.70 785.40L537.70 780.35L540.70 785.40Z" fill="none" stroke="#606060" stroke-width="1.3" stroke-linejoin="miter"/>
<text x="547.70" y="787.60" font-size="12.3" text-anchor="start" fill="#151515"  class="dl">0.04</text>
<path d="M532.20 795.00H545.40" stroke="#7a7a7a" stroke-width="1.1"/>
<circle cx="538.70" cy="795.00" r="2.7" fill="#808080" fill-opacity="0.10" stroke="#7a7a7a" stroke-width="1.15"/>
<text x="548.70" y="799.00" font-size="12.3" text-anchor="start" fill="#151515"  class="dl">0.04</text>
<path d="M545.40 807.00H565.00" stroke="#9a9a9a" stroke-width="1.1"/>
<rect x="552.60" y="804.30" width="5.4" height="5.4" fill="none" stroke="#9a9a9a" stroke-width="1.05"/>
<text x="565.30" y="811.00" font-size="12.3" text-anchor="start" fill="#151515"  class="dl">0.06</text>
<path d="M161.4 533V818.20" stroke="#000" stroke-width="1.2"/>
<path d="M155.6 557.00H161.4" stroke="#000" stroke-width="1.1"/>
<text x="151.20" y="552.30" font-size="15.65" text-anchor="end" fill="#151515" >IMD1</text>
<text x="151.60" y="568.00" font-size="15.85" text-anchor="end" fill="#151515" >(least deprived)</text>
<path d="M155.6 604.60H161.4" stroke="#000" stroke-width="1.1"/>
<text x="151.20" y="609.80" font-size="15.65" text-anchor="end" fill="#151515" >IMD 2</text>
<path d="M155.6 652.20H161.4" stroke="#000" stroke-width="1.1"/>
<text x="151.20" y="657.40" font-size="15.65" text-anchor="end" fill="#151515" >IMD 3</text>
<path d="M155.6 699.80H161.4" stroke="#000" stroke-width="1.1"/>
<text x="151.20" y="705.00" font-size="15.65" text-anchor="end" fill="#151515" >IMD 4</text>
<path d="M155.6 747.40H161.4" stroke="#000" stroke-width="1.1"/>
<text x="151.20" y="742.70" font-size="15.65" text-anchor="end" fill="#151515" >IMD 5</text>
<text x="151.60" y="758.40" font-size="15.85" text-anchor="end" fill="#151515" >(most deprived)</text>
<path d="M155.6 795.00H161.4" stroke="#000" stroke-width="1.1"/>
<text x="151.20" y="800.20" font-size="15.65" text-anchor="end" fill="#151515" >IMD Unknown</text>
<text x="24.70" y="868.50" font-size="14.84" text-anchor="start" fill="#151515" >All coefficients in percentage points and statistically significant (p&lt;0.001)</text>
<text x="7.40" y="909.50" font-size="14.8" text-anchor="start" fill="#151515" >* Early diagnoses before 1 April,2006</text>
</g>
</svg>
</body></html>
